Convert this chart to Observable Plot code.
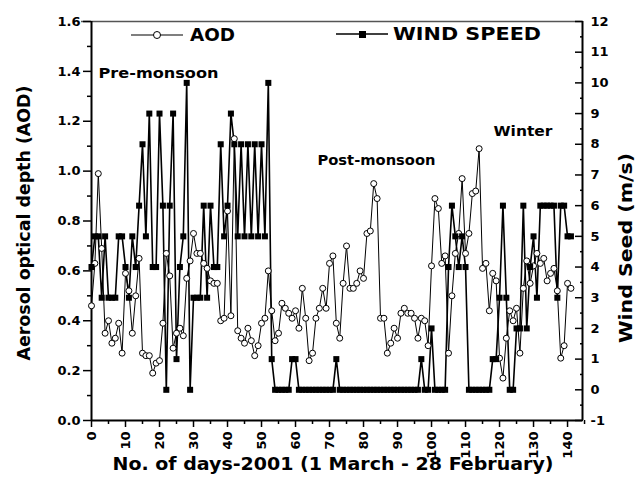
<!DOCTYPE html>
<html><head><meta charset="utf-8">
<script src="https://cdn.jsdelivr.net/npm/d3@7"></script>
<script src="https://cdn.jsdelivr.net/npm/@observablehq/plot@0.6"></script>
<style>body{margin:0;background:#fff}</style>
</head><body><div id="chart"></div>
<script>
// Daily AOD (day index = position in array)
const aod = [
 0.46,0.63,0.99,0.69,0.35,0.40,0.31,0.33,0.39,0.27,
 0.59,0.52,0.35,0.50,0.65,0.27,0.26,0.26,0.19,0.23,
 0.24,0.39,0.67,0.58,0.29,0.35,0.37,0.34,0.57,0.64,
 0.75,0.67,0.67,0.63,0.61,0.56,0.55,0.55,0.40,0.41,
 0.84,0.42,1.13,0.36,0.33,0.31,0.37,0.32,0.26,0.30,
 0.39,0.41,0.60,0.44,0.32,0.35,0.47,0.45,0.43,0.41,
 0.44,0.37,0.53,0.41,0.24,0.27,0.41,0.45,0.53,0.45,
 0.63,0.66,0.39,0.33,0.55,0.70,0.53,0.53,0.55,0.60,
 0.57,0.75,0.76,0.95,0.89,0.41,0.41,0.27,0.31,0.37,
 0.33,0.43,0.45,0.43,0.43,0.41,0.33,0.41,0.40,0.30,
 0.62,0.89,0.85,0.63,0.66,0.27,0.50,0.67,0.75,0.97,
 0.67,0.75,0.91,0.92,1.09,0.61,0.63,0.44,0.59,0.56,
 0.25,0.17,0.33,0.44,0.40,0.45,0.27,0.53,0.64,0.55,
 0.62,0.67,0.63,0.65,0.56,0.59,0.61,0.52,0.25,0.30,
 0.55,0.53
];
// Daily wind speed (m/s)
const wind = [
 4,5,5,3,5,3,3,3,5,5,
 4,3,5,4,6,8,5,9,4,4,
 9,6,0,6,9,1,4,5,10,0,
 3,3,3,6,3,6,4,4,8,5,
 6,9,8,5,8,5,8,5,8,5,
 8,5,10,1,0,0,0,0,0,1,
 1,0,0,0,0,0,0,0,0,0,
 0,0,1,0,0,0,0,0,0,0,
 0,0,0,0,0,0,0,0,0,0,
 0,0,0,0,0,0,0,1,0,0,
 2,0,0,0,0,4,6,5,4,5,
 4,0,0,0,0,0,0,0,1,1,
 3,6,3,0,0,2,2,6,2,4,
 5,3,6,6,6,6,6,3,6,6,
 5,5
];
const xTicks = [0,10,20,30,40,50,60,70,80,90,100,110,120,130,140];
const aodTicks = [0,0.2,0.4,0.6,0.8,1.0,1.2,1.4,1.6];
const windTicks = [-1,0,1,2,3,4,5,6,7,8,9,10,11,12];
const seasons = ["Pre-monsoon","Post-monsoon","Winter"];
const legendNames = ["AOD","WIND SPEED"];
const xTitle = "No. of days-2001 (1 March - 28 February)";
const yTitle = "Aerosol optical depth (AOD)";
const y2Title = "Wind Seed (m/s)";

const X_MAX = 144.4, A_MAX = 1.6, W_MIN = -1, W_MAX = 12;
const w2a = w => (w - W_MIN) / (W_MAX - W_MIN) * A_MAX;
const a2w = a => a / A_MAX * (W_MAX - W_MIN) + W_MIN;
const rows = aod.map((a, i) => ({day: i, aod: a, wind: wind[i]}));
const xMinor = xTicks.map(t => t + 5);
const aodMinor = aodTicks.slice(0, -1).map(t => t + 0.1);
const windMinor = windTicks.slice(0, -1).map(t => t + 0.5);
const blank = () => "";

const F = "'DejaVu Sans', sans-serif";
const chart = Plot.plot({
  width: 638, height: 487,
  marginLeft: 91, marginRight: 56, marginTop: 21, marginBottom: 67,
  x: {domain: [0, X_MAX]},
  y: {domain: [0, A_MAX]},
  style: {fontFamily: F, fontWeight: "bold", fontSize: "13px", color: "#000", background: "#fff", overflow: "visible"},
  marks: [
    Plot.ruleY([A_MAX], {stroke: "#555", strokeWidth: 1.5, insetLeft: -10}),
    Plot.axisY(aodTicks, {tickSize: 8, tickPadding: 3, strokeWidth: 1.5, tickFormat: d => d.toFixed(1), label: null, fontSize: 13}),
    Plot.axisY(aodMinor, {tickSize: 4, strokeWidth: 1.5, tickFormat: blank, label: null}),
    Plot.axisY(windTicks.map(w2a), {anchor: "right", tickSize: 8, dx: -8, strokeWidth: 1.5, tickFormat: blank, label: null}),
    Plot.axisY(windMinor.map(w2a), {anchor: "right", tickSize: 3, dx: -3, strokeWidth: 1.5, tickFormat: blank, label: null}),
    Plot.axisY(windTicks.map(w2a), {anchor: "right", tickSize: 0, tickPadding: 8, fontSize: 13, label: null, tickFormat: v => String(Math.round(a2w(v)))}),
    Plot.axisX(xTicks, {tickSize: 7, tickPadding: 4, tickRotate: -90, strokeWidth: 1.5, label: null, fontSize: 13}),
    Plot.axisX(xMinor, {tickSize: 4, strokeWidth: 1.5, tickFormat: blank, label: null}),
    Plot.ruleX([0], {strokeWidth: 2}),
    Plot.ruleX([X_MAX], {strokeWidth: 2}),
    Plot.ruleY([0], {strokeWidth: 2}),
    Plot.line(rows, {x: "day", y: d => w2a(d.wind), stroke: "#000", strokeWidth: 1.6}),
    Plot.line(rows, {x: "day", y: "aod", stroke: "#000", strokeWidth: 1}),
    Plot.dot(rows, {x: "day", y: "aod", r: 3, fill: "#fff", stroke: "#000", strokeWidth: 1}),
    Plot.dot(rows, {x: "day", y: d => w2a(d.wind), symbol: "square", r: 3.4, fill: "#000", stroke: "none"}),
    Plot.text([xTitle], {text: d => d, frameAnchor: "bottom", dx: -4, dy: 49, fontSize: 17, fontWeight: "bold"}),
    Plot.text([yTitle], {text: d => d, frameAnchor: "left", dx: -67, dy: 2, rotate: -90, fontSize: 17, fontWeight: "bold"}),
    Plot.text([y2Title], {text: d => d, frameAnchor: "right", dx: 44, dy: 27, rotate: -90, fontSize: 17, fontWeight: "bold"}),
    Plot.text([seasons[0]], {text: d => d, frameAnchor: "top-left", textAnchor: "start", dx: 7, dy: 47, fontSize: 14}),
    Plot.text([seasons[1]], {text: d => d, frameAnchor: "top-left", textAnchor: "start", dx: 226, dy: 134, fontSize: 14}),
    Plot.text([seasons[2]], {text: d => d, frameAnchor: "top-left", textAnchor: "start", dx: 402, dy: 105, fontSize: 14})
  ]
});
document.getElementById("chart").append(chart);

// Legend (inside frame, top)
const svg = d3.select(chart);
const lg = svg.append("g").attr("font-family", F).attr("font-weight", "bold").attr("font-size", 18).attr("text-anchor", "start");
lg.append("line").attr("x1", 131).attr("x2", 183).attr("y1", 35).attr("y2", 35).attr("stroke", "#000").attr("stroke-width", 1.2);
lg.append("circle").attr("cx", 157).attr("cy", 35).attr("r", 3.5).attr("fill", "#fff").attr("stroke", "#000");
lg.append("text").attr("x", 190).attr("y", 35).attr("dy", "0.36em").text(legendNames[0]);
lg.append("line").attr("x1", 336).attr("x2", 388).attr("y1", 34).attr("y2", 34).attr("stroke", "#000").attr("stroke-width", 1.6);
lg.append("rect").attr("x", 359).attr("y", 31).attr("width", 7).attr("height", 7).attr("fill", "#000");
lg.append("text").attr("x", 393).attr("y", 34).attr("dy", "0.36em").text(legendNames[1]);

// Fit heavy-font widths of the reference (centred titles are re-anchored at their start)
const widths = {"Pre-monsoon": 120, "Post-monsoon": 118, "Winter": 59, "AOD": 45, "WIND SPEED": 148};
const centred = {};
widths[xTitle] = 441; widths[yTitle] = 275; widths[y2Title] = 190;
centred[xTitle] = centred[yTitle] = centred[y2Title] = true;
svg.selectAll("text").each(function() {
  const t = this.textContent;
  if (widths[t] && !this.querySelector("tspan")) {
    this.setAttribute("textLength", widths[t]);
    this.setAttribute("lengthAdjust", "spacingAndGlyphs");
    if (centred[t]) {
      this.setAttribute("text-anchor", "start");
      this.setAttribute("x", -widths[t] / 2);
    }
  }
});
</script>
</body></html>
